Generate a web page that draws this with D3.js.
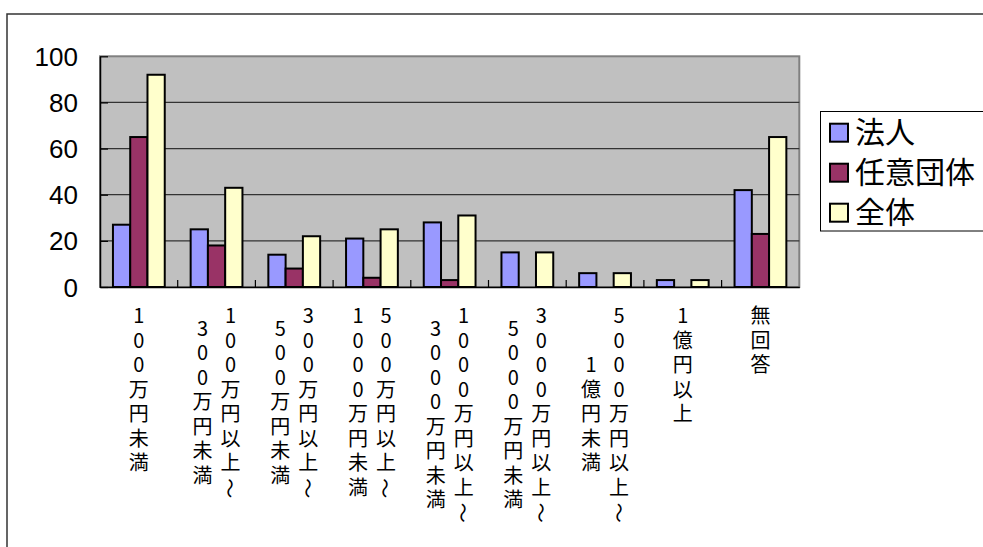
<!DOCTYPE html>
<html><head><meta charset="utf-8">
<script src="https://cdn.jsdelivr.net/npm/d3@7"></script>
<style>
html,body{margin:0;padding:0;background:#fff;overflow:hidden;}
svg{display:block;}
</style></head>
<body>
<svg id="chart" width="983" height="547"></svg>
<script>
// ---- data ----
const categories = [
  ["100万円未満"],
  ["100万円以上～", "300万円未満"],
  ["300万円以上～", "500万円未満"],
  ["500万円以上～", "1000万円未満"],
  ["1000万円以上～", "3000万円未満"],
  ["3000万円以上～", "5000万円未満"],
  ["5000万円以上～", "1億円未満"],
  ["1億円以上"],
  ["無回答"]
];
const seriesNames = ["法人", "任意団体", "全体"];
const houjin = [27, 25, 14, 21, 28, 15, 6, 3, 42];
const niniDantai = [65, 18, 8, 4, 3, 0, 0, 0, 23];
const zentai = [92, 43, 22, 25, 31, 15, 6, 3, 65];
const yTicks = [0, 20, 40, 60, 80, 100];
const colors = ["#9999FF", "#993366", "#FFFFCC"];

const seriesValues = [houjin, niniDantai, zentai];

// ---- layout ----
const svg = d3.select("#chart");
const plot = {left: 100, right: 799.3, top: 56.3, bottom: 287};

// outer chart border (extends past viewport)
svg.append("rect").attr("x", 7).attr("y", 14).attr("width", 1100).attr("height", 700)
  .attr("fill", "#fff").attr("stroke", "#333").attr("stroke-width", 1.5);

const x0 = d3.scaleBand().domain(d3.range(categories.length))
  .range([plot.left, plot.right]).paddingInner(0).paddingOuter(0);
const x1 = d3.scaleBand().domain(seriesNames).range([0, x0.bandwidth()])
  .paddingInner(0).paddingOuter(0.75);
const y = d3.scaleLinear().domain([0, 100]).range([plot.bottom, plot.top]);

// plot background
svg.append("rect").attr("x", plot.left).attr("y", plot.top)
  .attr("width", plot.right - plot.left).attr("height", plot.bottom - plot.top)
  .attr("fill", "#C0C0C0").attr("stroke", "#808080").attr("stroke-width", 2);

// gridlines
svg.append("g").selectAll("line").data(yTicks.filter(d => d > 0 && d < 100)).join("line")
  .attr("x1", plot.left).attr("x2", plot.right)
  .attr("y1", d => y(d)).attr("y2", d => y(d))
  .attr("stroke", "#333").attr("stroke-width", 1.2);

// bars
const rows = categories.map((c, i) => seriesNames.map((s, j) => ({cat: i, s, j, v: seriesValues[j][i]})));
svg.append("g").selectAll("g").data(rows).join("g")
  .attr("transform", (d, i) => `translate(${x0(i)},0)`)
  .selectAll("rect").data(d => d.filter(e => e.v > 0)).join("rect")
  .attr("x", d => x1(d.s)).attr("width", x1.bandwidth())
  .attr("y", d => y(d.v)).attr("height", d => y(0) - y(d.v))
  .attr("fill", d => colors[d.j]).attr("stroke", "#000").attr("stroke-width", 2);

// y axis
const yAxis = d3.axisLeft(y).tickValues(yTicks).tickSize(-8).tickPadding(22).tickSizeOuter(0)
  .tickFormat(d3.format("d"));
const gy = svg.append("g").attr("transform", `translate(${plot.left},0)`).call(yAxis);
gy.select(".domain").attr("stroke", "#000").attr("stroke-width", 1.5);
gy.selectAll(".tick line").attr("stroke", "#000").attr("stroke-width", 1.2);
gy.selectAll(".tick text").attr("font-family", "'Liberation Sans', Arial, sans-serif")
  .attr("font-size", 26).attr("fill", "#000").attr("dy", "0.35em");

// x axis line + tick marks between categories
const xAxis = d3.axisBottom(x0).tickValues([]).tickSizeOuter(0);
const gx = svg.append("g").attr("transform", `translate(0,${plot.bottom})`).call(xAxis);
gx.select(".domain").attr("stroke", "#000").attr("stroke-width", 1.5);
gx.selectAll("line.sep").data(d3.range(1, categories.length)).join("line").attr("class", "sep")
  .attr("x1", i => x0(i)).attr("x2", i => x0(i)).attr("y1", 0).attr("y2", -7)
  .attr("stroke", "#000").attr("stroke-width", 1.2);

// x labels: vertical stacked text, columns right-to-left
const fs = 20, step = 24.5, colGap = 28, baseTop = 323.3;
const lab = svg.append("g").attr("font-family", "'Noto Sans CJK JP', sans-serif")
  .attr("font-size", fs).attr("fill", "#000");
categories.forEach((lines, i) => {
  const cx = x0(i) + x0.bandwidth() / 2;
  const n = lines.length;
  const maxLen = d3.max(lines, l => Array.from(l).length);
  lines.forEach((line, k) => {
    const chars = Array.from(line);
    const colX = cx + ((n - 1) / 2 - k) * colGap;
    const off = (maxLen - chars.length) / 2 * step;
    chars.forEach((ch, r) => {
      const by = baseTop + off + r * step;
      if (ch === "～") {
        const cy = by - 0.33 * fs;
        lab.append("text").attr("x", colX).attr("y", cy)
          .attr("text-anchor", "middle").attr("dominant-baseline", "central")
          .attr("transform", `rotate(90,${colX},${cy})`).text(ch);
      } else {
        lab.append("text").attr("x", colX).attr("y", by)
          .attr("text-anchor", "middle").text(ch);
      }
    });
  });
});

// legend
const lg = svg.append("g");
lg.append("rect").attr("x", 820.5).attr("y", 111.5).attr("width", 300).attr("height", 119.5)
  .attr("fill", "#fff").attr("stroke", "#000").attr("stroke-width", 1);
const items = lg.selectAll("g.item").data(seriesNames).join("g").attr("class", "item")
  .attr("transform", (d, i) => `translate(0,${131.7 + i * 40})`);
items.append("rect").attr("x", 830).attr("y", -8).attr("width", 18).attr("height", 18)
  .attr("fill", (d, i) => colors[i]).attr("stroke", "#000").attr("stroke-width", 2);
items.append("text").attr("x", 855).attr("y", 0.38 * 30).attr("font-size", 30)
  .attr("font-family", "'Noto Sans CJK JP', sans-serif").attr("fill", "#000").text(d => d);
</script>
</body></html>
